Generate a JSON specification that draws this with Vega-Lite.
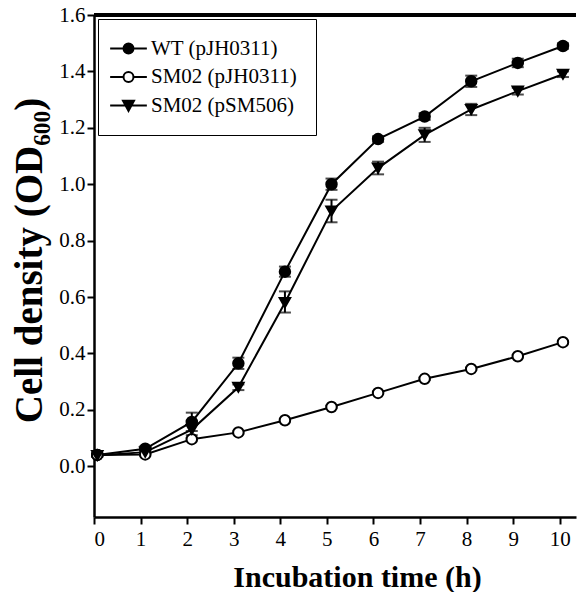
{
  "$schema": "https://vega.github.io/schema/vega-lite/v6.json",
  "autosize": "none",
  "padding": {"left": 94, "top": 15, "right": 6, "bottom": 75},
  "width": 482,
  "height": 502,
  "background": "white",
  "config": {
    "view": {"stroke": null},
    "axis": {
      "domainColor": "black", "domainWidth": 2.5, "tickColor": "black", "tickWidth": 2, "tickSize": 7,
      "labelFont": "Liberation Serif", "labelFontSize": 21, "labelColor": "black",
      "titleFont": "Liberation Serif", "titleFontSize": 30, "titleFontWeight": "bold", "titleColor": "black",
      "grid": false
    },
    "legend": {
      "orient": "none", "legendX": 4, "legendY": 4,
      "padding": 19, "strokeColor": "black", "fillColor": "white",
      "labelFont": "Liberation Serif", "labelFontSize": 21, "labelColor": "black",
      "symbolSize": 110, "symbolStrokeWidth": 2,
      "rowPadding": 6.5, "labelOffset": 12, "symbolOffset": 1
    }
  },
  "data": {"values": [
    {"series": "WT (pJH0311)", "t": 0.07, "od": 0.04, "lo": 0.035, "hi": 0.045},
    {"series": "WT (pJH0311)", "t": 1.1, "od": 0.062, "lo": 0.055, "hi": 0.07},
    {"series": "WT (pJH0311)", "t": 2.1, "od": 0.157, "lo": 0.125, "hi": 0.19},
    {"series": "WT (pJH0311)", "t": 3.1, "od": 0.365, "lo": 0.345, "hi": 0.385},
    {"series": "WT (pJH0311)", "t": 4.1, "od": 0.69, "lo": 0.672, "hi": 0.708},
    {"series": "WT (pJH0311)", "t": 5.1, "od": 1.0, "lo": 0.98, "hi": 1.02},
    {"series": "WT (pJH0311)", "t": 6.1, "od": 1.16, "lo": 1.15, "hi": 1.17},
    {"series": "WT (pJH0311)", "t": 7.1, "od": 1.24, "lo": 1.228, "hi": 1.252},
    {"series": "WT (pJH0311)", "t": 8.1, "od": 1.365, "lo": 1.345, "hi": 1.385},
    {"series": "WT (pJH0311)", "t": 9.1, "od": 1.43, "lo": 1.415, "hi": 1.445},
    {"series": "WT (pJH0311)", "t": 10.07, "od": 1.49, "lo": 1.48, "hi": 1.5},
    {"series": "SM02 (pJH0311)", "t": 0.07, "od": 0.04, "lo": 0.036, "hi": 0.044},
    {"series": "SM02 (pJH0311)", "t": 1.1, "od": 0.042, "lo": 0.038, "hi": 0.046},
    {"series": "SM02 (pJH0311)", "t": 2.1, "od": 0.096, "lo": 0.092, "hi": 0.1},
    {"series": "SM02 (pJH0311)", "t": 3.1, "od": 0.12, "lo": 0.116, "hi": 0.124},
    {"series": "SM02 (pJH0311)", "t": 4.1, "od": 0.163, "lo": 0.159, "hi": 0.167},
    {"series": "SM02 (pJH0311)", "t": 5.1, "od": 0.21, "lo": 0.206, "hi": 0.214},
    {"series": "SM02 (pJH0311)", "t": 6.1, "od": 0.26, "lo": 0.256, "hi": 0.264},
    {"series": "SM02 (pJH0311)", "t": 7.1, "od": 0.31, "lo": 0.306, "hi": 0.314},
    {"series": "SM02 (pJH0311)", "t": 8.1, "od": 0.345, "lo": 0.341, "hi": 0.349},
    {"series": "SM02 (pJH0311)", "t": 9.1, "od": 0.39, "lo": 0.386, "hi": 0.394},
    {"series": "SM02 (pJH0311)", "t": 10.07, "od": 0.44, "lo": 0.436, "hi": 0.444},
    {"series": "SM02 (pSM506)", "t": 0.07, "od": 0.038, "lo": 0.033, "hi": 0.043},
    {"series": "SM02 (pSM506)", "t": 1.1, "od": 0.05, "lo": 0.044, "hi": 0.056},
    {"series": "SM02 (pSM506)", "t": 2.1, "od": 0.13, "lo": 0.11, "hi": 0.15},
    {"series": "SM02 (pSM506)", "t": 3.1, "od": 0.28, "lo": 0.27, "hi": 0.29},
    {"series": "SM02 (pSM506)", "t": 4.1, "od": 0.58, "lo": 0.545, "hi": 0.62},
    {"series": "SM02 (pSM506)", "t": 5.1, "od": 0.905, "lo": 0.865, "hi": 0.945},
    {"series": "SM02 (pSM506)", "t": 6.1, "od": 1.057, "lo": 1.035, "hi": 1.08},
    {"series": "SM02 (pSM506)", "t": 7.1, "od": 1.175, "lo": 1.15, "hi": 1.2},
    {"series": "SM02 (pSM506)", "t": 8.1, "od": 1.265, "lo": 1.245, "hi": 1.285},
    {"series": "SM02 (pSM506)", "t": 9.1, "od": 1.33, "lo": 1.318, "hi": 1.342},
    {"series": "SM02 (pSM506)", "t": 10.07, "od": 1.39, "lo": 1.38, "hi": 1.4}
  ]},
  "encoding": {
    "x": {"field": "t", "type": "quantitative",
      "scale": {"domain": [0, 10.35], "nice": false, "zero": false},
      "axis": {"values": [0,1,2,3,4,5,6,7,8,9,10], "format": "d", "title": "Incubation time (h)",
        "labelPadding": 4, "titleX": 263, "titleY": 69, "titleBaseline": "alphabetic", "titleAnchor": "middle", "titleAlign": "center"}}
  },
  "layer": [
    {
      "mark": {"type": "rule", "color": "black", "strokeWidth": 2.5},
      "encoding": {"y": {"datum": 1.6, "type": "quantitative"}, "x": null}
    },
    {
      "mark": {"type": "line", "color": "black", "strokeWidth": 2},
      "encoding": {
        "y": {"field": "od", "type": "quantitative",
          "scale": {"domain": [-0.18, 1.6], "nice": false, "zero": false},
          "title": "Cell density (OD₆₀₀)",
          "axis": {"values": [0, 0.2, 0.4, 0.6, 0.8, 1.0, 1.2, 1.4, 1.6], "format": ".1f",
            "labelPadding": 2, "titleFontSize": 39,
            "titleX": -53, "titleY": 245, "titleBaseline": "alphabetic", "titleAngle": -90, "titleAlign": "center"}},
        "detail": {"field": "series"}
      }
    },
    {
      "mark": {"type": "errorbar", "ticks": {"size": 12, "thickness": 2, "color": "black"}, "thickness": 2, "color": "black"},
      "encoding": {
        "y": {"field": "lo", "type": "quantitative", "title": "Cell density (OD₆₀₀)"},
        "y2": {"field": "hi"},
        "detail": {"field": "series"}
      }
    },
    {
      "mark": {"type": "point", "filled": false, "stroke": "black", "strokeWidth": 2, "size": 110, "opacity": 1},
      "encoding": {
        "y": {"field": "od", "type": "quantitative", "title": "Cell density (OD₆₀₀)"},
        "shape": {"field": "series", "type": "nominal", "legend": null,
          "scale": {"domain": ["WT (pJH0311)", "SM02 (pJH0311)", "SM02 (pSM506)"], "range": ["circle", "circle", "triangle-down"]}},
        "fill": {"field": "series", "type": "nominal", "legend": null,
          "scale": {"domain": ["WT (pJH0311)", "SM02 (pJH0311)", "SM02 (pSM506)"], "range": ["black", "white", "black"]}}
      }
    },
    {
      "transform": [{"filter": "false"}],
      "mark": {"type": "point", "filled": false, "stroke": "black", "strokeWidth": 2, "size": 110, "opacity": 1},
      "encoding": {
        "y": {"field": "od", "type": "quantitative", "title": "Cell density (OD₆₀₀)"},
        "shape": {"field": "series", "type": "nominal",
          "scale": {"domain": ["WT (pJH0311)", "SM02 (pJH0311)", "SM02 (pSM506)"],
            "range": ["M-3.5,0H3.5M-0.95,0A0.95,0.95 0 1,0 0.95,0A0.95,0.95 0 1,0 -0.95,0Z", "M-3.5,0H-0.95M0.95,0H3.5M-0.95,0A0.95,0.95 0 1,0 0.95,0A0.95,0.95 0 1,0 -0.95,0Z", "M-3.5,0H3.5M-1.05,-0.9H1.05L0,1.05Z"]},
          "legend": {"title": null}},
        "fill": {"field": "series", "type": "nominal",
          "scale": {"domain": ["WT (pJH0311)", "SM02 (pJH0311)", "SM02 (pSM506)"], "range": ["black", "white", "black"]},
          "legend": {"title": null}}
      }
    }
  ],
  "resolve": {"scale": {"shape": "independent", "fill": "independent"}}
}
